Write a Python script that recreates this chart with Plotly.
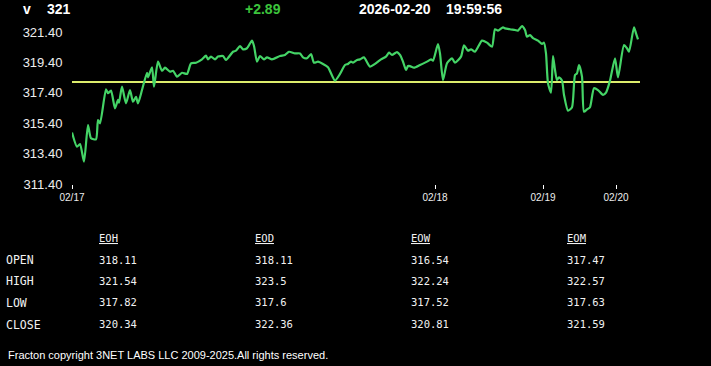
import plotly.graph_objects as go

# ---- data ----
t = [0, 5, 8, 12, 16, 19, 24, 26, 28, 34, 36, 39, 43, 46, 47, 50, 54, 58, 61, 64, 66, 70, 75, 76, 80, 82, 86, 90, 93, 98,
     101, 105, 110, 115, 119, 124, 130, 134, 136, 139, 143, 146, 151, 154, 161, 164, 168, 171, 175, 180, 182, 185, 188, 192,
     195, 200, 208, 213, 217, 223, 228, 231, 235, 239, 242, 246, 251, 256, 263, 268, 273, 276, 279, 281, 285, 288, 292, 298,
     303, 309, 314, 317, 320, 325, 328, 331, 334, 336, 338, 342, 348, 355, 359, 361, 366, 368, 371, 375, 380, 383, 389, 392,
     396, 399, 403, 410, 415, 420, 423, 426, 431, 433, 438, 443, 446, 450, 453, 455, 458, 461, 466, 470, 472, 474, 476, 479,
     481, 483, 485, 487, 490, 492, 496, 500, 503, 505, 507, 510, 512, 515, 518, 522, 526, 531, 534, 538, 543, 546, 552, 555,
     557, 562, 564, 566]
price = [314.78, 313.85, 314.03, 312.87, 315.28, 314.41, 314.34, 315.61, 315.39, 317.63, 317.37, 317.54, 316.38, 316.93,
         316.75, 317.80, 316.71, 317.58, 316.81, 317.14, 316.71, 317.58, 318.72, 318.42, 319.08, 317.80, 319.45, 318.85,
         319.05, 318.79, 318.85, 318.46, 318.72, 318.64, 319.34, 319.38, 319.60, 319.84, 319.60, 319.78, 319.60, 319.78,
         319.82, 319.56, 320.10, 320.17, 320.48, 320.26, 320.33, 320.83, 320.48, 319.45, 319.82, 319.60, 319.73, 319.60,
         319.82, 319.89, 320.10, 319.99, 319.99, 319.73, 319.67, 319.95, 319.38, 319.45, 319.30, 319.08, 318.20, 318.64,
         319.23, 319.30, 319.45, 319.38, 319.56, 319.60, 319.73, 319.12, 319.30, 319.60, 319.78, 320.04, 319.89, 320.08,
         319.89, 319.45, 318.90, 319.16, 319.16, 319.05, 319.23, 319.45, 319.60, 319.51, 320.61, 319.99, 318.24, 319.34,
         319.67, 319.38, 319.78, 320.53, 320.17, 320.26, 320.10, 320.83, 320.70, 320.43, 321.58, 321.49, 321.71, 321.64,
         321.58, 321.53, 321.49, 321.79, 321.53, 321.09, 321.20, 320.99, 320.83, 320.61, 320.70, 319.99, 318.02, 317.41,
         319.82, 318.90, 318.24, 318.42, 318.20, 317.26, 316.22, 316.45, 318.57, 318.68, 319.23, 318.46, 316.16, 316.31,
         316.45, 317.70, 317.58, 317.26, 317.41, 318.20, 319.67, 318.42, 320.54, 320.33, 320.10, 321.71, 321.31, 320.92]

tick_pos = [0, 363, 471, 544]
tick_labels = ["02/17", "02/18", "02/19", "02/20"]
y_ticks = [311.40, 313.40, 315.40, 317.40, 319.40, 321.40]

symbol = "v"
last_price = "321"
change = "+2.89"
date_str = "2026-02-20"
time_str = "19:59:56"

row_labels = ["OPEN", "HIGH", "LOW", "CLOSE"]
col_names = ["EOH", "EOD", "EOW", "EOM"]
eoh = [318.11, 321.54, 317.82, 320.34]
eod = [318.11, 323.5, 317.6, 322.36]
eow = [316.54, 322.24, 317.52, 320.81]
eom = [317.47, 322.57, 317.63, 321.59]
footer = "Fracton copyright 3NET LABS LLC 2009-2025.All rights reserved."

ref_level = eod[0]

# ---- layout geometry ----
W, H = 711, 366
L, R, T, B = 72, 645, 20, 184


def px(x):
    return (x - L) / (R - L)


def py(y):
    return (B - y) / (B - T)


fig = go.Figure()
fig.add_trace(go.Scatter(x=[t[0], t[-1] + 2], y=[ref_level, ref_level], mode="lines",
                         line=dict(color="#dcec6c", width=2), hoverinfo="skip"))
fig.add_trace(go.Scatter(x=t, y=price, mode="lines",
                         line=dict(color="#44d466", width=2.2, shape="spline", smoothing=0.6)))

ann = []
hdr_font = dict(family="Liberation Sans, Arial", size=14, color="#ffffff")
ann.append(dict(text="<b>%s</b>" % symbol, x=px(21), y=py(9), xanchor="left", yanchor="middle", font=hdr_font))
ann.append(dict(text="<b>%s</b>" % last_price, x=px(45), y=py(9), xanchor="left", yanchor="middle", font=hdr_font))
ann.append(dict(text="<b>%s</b>" % change, x=px(243), y=py(9), xanchor="left", yanchor="middle",
                font=dict(family="Liberation Sans, Arial", size=14, color="#3cc43c")))
ann.append(dict(text="<b>%s</b>" % date_str, x=px(357), y=py(9), xanchor="left", yanchor="middle", font=hdr_font))
ann.append(dict(text="<b>%s</b>" % time_str, x=px(504), y=py(9), xanchor="right", yanchor="middle", font=hdr_font))

mono = dict(family="DejaVu Sans Mono, monospace", size=10.5, color="#f2f2f2")
mono_lab = dict(family="DejaVu Sans Mono, monospace", size=11.5, color="#f2f2f2")
col_x = [97, 253, 409, 565]
row_y = [259.5, 280.5, 302, 324]
cols = [eoh, eod, eow, eom]
for cx, name in zip(col_x, col_names):
    ann.append(dict(text="<u>%s</u>" % name, x=px(cx), y=py(238), xanchor="left", yanchor="middle", font=mono))
for ry, lab in zip(row_y, row_labels):
    ann.append(dict(text=lab, x=px(4), y=py(ry + 0.5), xanchor="left", yanchor="middle", font=mono_lab))
for cx, col in zip(col_x, cols):
    for ry, v in zip(row_y, col):
        ann.append(dict(text=str(v), x=px(cx), y=py(ry), xanchor="left", yanchor="middle", font=mono))
ann.append(dict(text=footer, x=px(6), y=py(354.5), xanchor="left", yanchor="middle",
                font=dict(family="Liberation Sans, Arial", size=11, color="#ffffff")))
for a in ann:
    a.update(xref="paper", yref="paper", showarrow=False)

fig.update_layout(
    width=W, height=H,
    margin=dict(l=L, r=W - R, t=T, b=H - B, pad=0),
    paper_bgcolor="black", plot_bgcolor="black",
    showlegend=False,
    annotations=ann,
    xaxis=dict(range=[0, R - L], tickmode="array", tickvals=tick_pos, ticktext=tick_labels,
               showgrid=False, zeroline=False, showline=False,
               ticks="outside", ticklen=4, tickwidth=1, tickcolor="#ffffff",
               tickfont=dict(family="Liberation Sans, Arial", size=10, color="#eeeeee")),
    yaxis=dict(range=[311.4, 311.4 + (B - T) / 15.2], tickmode="array", tickvals=y_ticks,
               ticktext=["%.2f" % v for v in y_ticks],
               showgrid=False, zeroline=False, showline=False,
               ticks="outside", ticklen=6, tickcolor="rgba(0,0,0,0)",
               tickfont=dict(family="Liberation Sans, Arial", size=13, color="#eeeeee")),
)

fig.write_html("out.html")
